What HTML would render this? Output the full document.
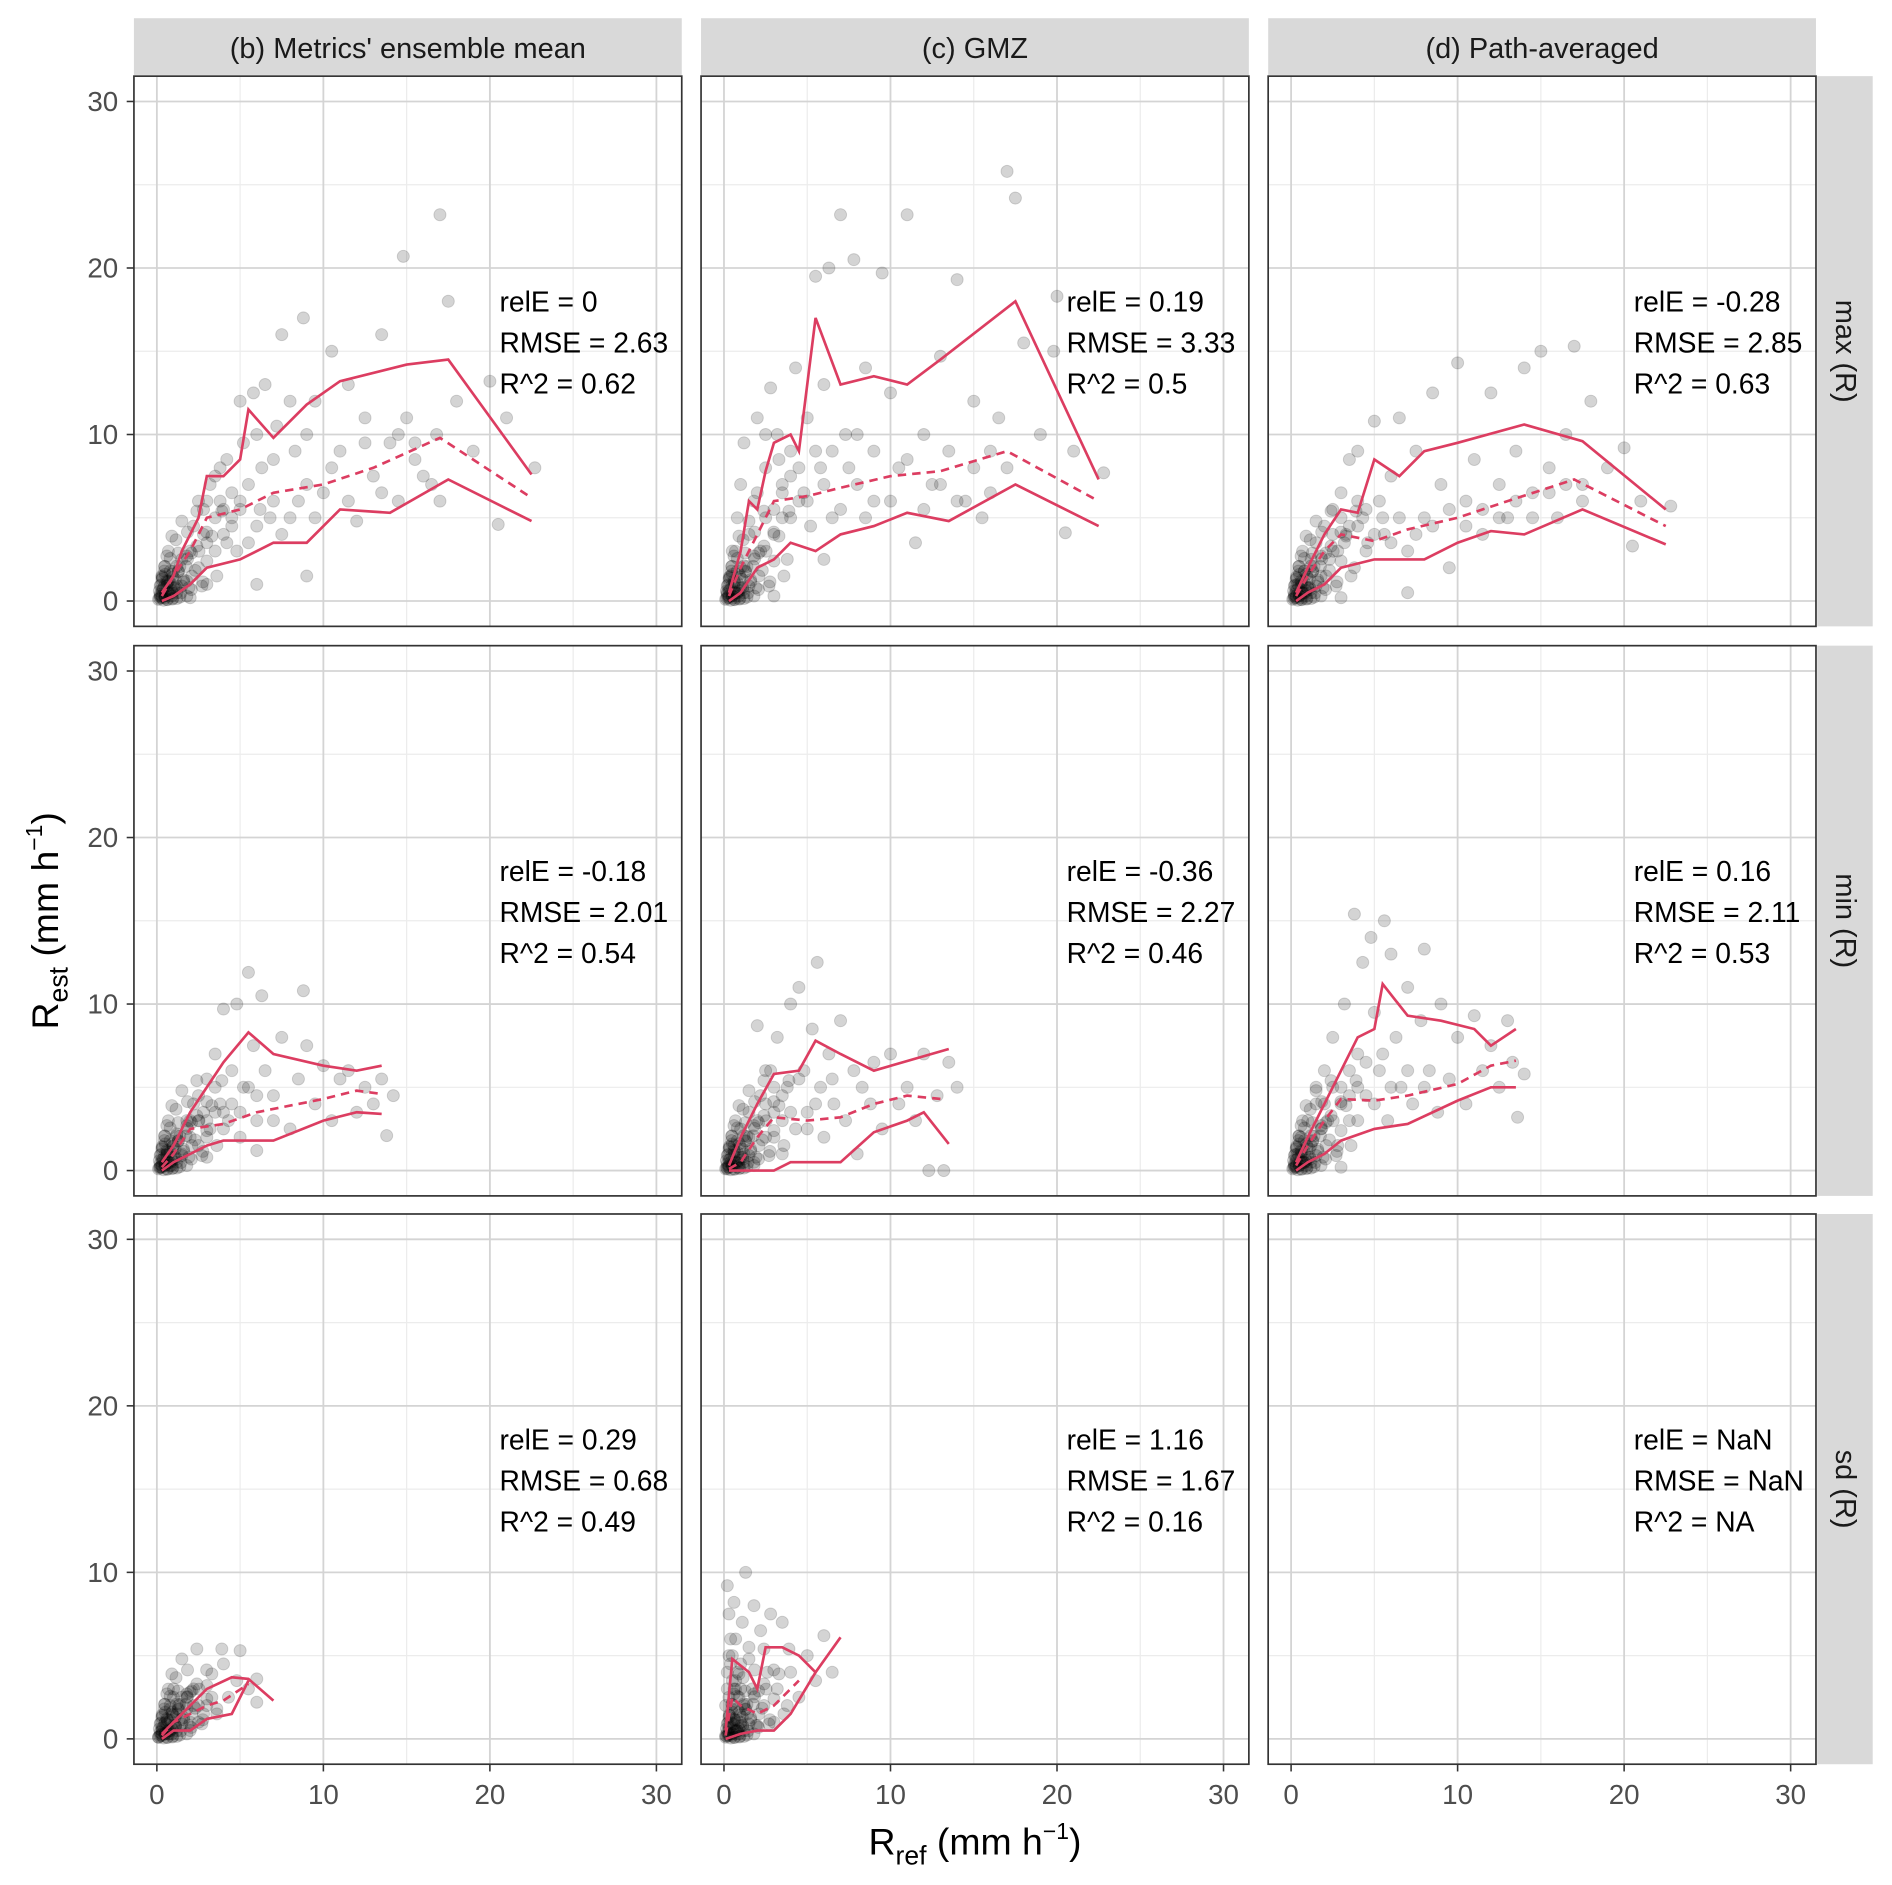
<!DOCTYPE html>
<html><head><meta charset="utf-8"><style>
html,body{margin:0;padding:0;background:#fff;}
svg{display:block;font-family:"Liberation Sans",Arial,sans-serif;}
</style></head><body>
<svg id="chart" width="1892" height="1885" viewBox="0 0 1568 1562" xmlns="http://www.w3.org/2000/svg"></svg>
<script>
// ---- data ----
const colLabels = ["(b) Metrics' ensemble mean", "(c) GMZ", "(d) Path-averaged"];
const rowLabels = ["max (R)", "min (R)", "sd (R)"];
const xTicks = [0, 10, 20, 30];
const yTicks = [0, 10, 20, 30];
const statsRelE = [["0","0.19","-0.28"],["-0.18","-0.36","0.16"],["0.29","1.16","NaN"]];
const statsRMSE = [["2.63","3.33","2.85"],["2.01","2.27","2.11"],["0.68","1.67","NaN"]];
const statsR2 = [["0.62","0.5","0.63"],["0.54","0.46","0.53"],["0.49","0.16","NA"]];
const corePts = [[0.1,0.1],[0.2,0.4],[0.3,0.2],[0.4,0.7],[0.5,0.3],[0.6,0.9],[0.7,0.5],[0.8,1.1],[0.2,0.9],[0.9,0.3],[1.0,0.8],[0.3,1.3],[0.5,1.6],[1.1,1.3],[0.15,0.6],[0.6,0.1],[0.8,1.8],[1.2,0.5],[0.4,0.05],[1.3,1.8]];
const coreScales = [1, 1.6, 2.3, 3.0];
const pts_b_max = [[0.2,0.3],[0.4,0.8],[0.5,0.2],[0.7,1.2],[0.9,0.5],[1,1.8],[1.2,0.9],[0.3,1.5],[1.5,2.5],[1.8,1.2],[2,3],[2.2,4.5],[2.5,2],[2.8,5.5],[3,3.5],[3.2,7],[3.5,5],[3.8,6],[4,4],[4.2,8.5],[4.5,6.5],[4.8,3],[5,5.5],[5.2,9.5],[5.5,7],[5.8,12.5],[6,4.5],[6.3,8],[6.5,13],[7,6],[7.2,10.5],[7.5,16],[8,5],[8.3,9],[8.8,17],[9,7],[9.5,12],[10,6.5],[10.5,15],[11,9],[11.5,13],[12,4.8],[12.5,11],[13,7.5],[13.5,16],[14,9.5],[14.5,6],[14.8,20.7],[15,11],[15.5,8.5],[16.5,7],[16.8,10],[17,23.2],[17.5,18],[18,12],[19,9],[20,13.2],[20.5,4.6],[21,11],[22.7,8],[6,1],[9,1.5],[2,0.2],[3,1],[3.5,3],[4.5,5],[2.5,6],[3.8,8],[6.8,5],[5.5,3.5],[3,6],[4,5.5],[4.5,4.5],[5,6],[3.5,7.5],[4.2,3.5],[2.8,4],[6.2,5.5],[7.5,4],[8.5,6],[9.5,5],[10.5,8],[11.5,6],[12.5,9.5],[13.5,6.5],[14.5,10],[15.5,9.5],[16,7.5],[17,6],[7,8.5],[8,12],[9,10],[6,10],[5,12]];
const pts_c_max = [[0.2,0.5],[0.4,1.5],[0.5,3],[0.6,0.2],[0.8,5],[1,2],[1,7],[1.2,9.5],[1.5,4],[1.8,6],[2,11],[2.2,3],[2.5,8],[2.8,12.8],[3,5.5],[3.2,10],[3.5,7],[3.8,2.5],[4,9],[4.3,14],[4.5,6],[5,11],[5.2,4.5],[5.5,19.5],[5.8,8],[6,13],[6.3,20],[6.5,5],[7,23.2],[7.3,10],[7.8,20.5],[8,7],[8.5,14],[9,6],[9.5,19.7],[10,12.5],[10.5,8],[11,23.2],[11.5,3.5],[12,10],[12.5,7],[13,14.7],[13.5,9],[14,19.3],[14.5,6],[15,12],[15.5,5],[16,9],[16.5,11],[17,25.8],[17.5,24.2],[18,15.5],[19,10],[19.8,15],[20,18.3],[20.5,4.1],[21,9],[22.8,7.7],[3,0.3],[6,2.5],[3.5,5],[4,7.5],[2.5,5],[4.8,6.5],[3.3,8.5],[3,4],[3.5,6.5],[4,5],[4.5,8],[5,6],[5.5,9],[6,7],[6.5,9],[7,5.5],[7.5,8],[8,10],[8.5,5],[9,9],[10,6],[11,8.5],[12,5.5],[13,7],[14,6],[15,8],[16,6.5],[17,8],[2,6.5],[2.5,10]];
const pts_d_max = [[0.2,0.3],[0.4,1],[0.6,0.2],[0.8,1.8],[1,0.8],[1.2,2.5],[1.5,3.5],[1.8,1.5],[2,4.5],[2.3,2.5],[2.5,5.5],[2.8,3],[3,6.5],[3.3,4],[3.5,8.5],[3.8,2],[4,9],[4.3,5],[4.6,3.5],[5,10.8],[5.3,6],[5.6,4],[6,7.5],[6.5,11],[7,3],[7.5,9],[8,5],[8.5,12.5],[9,7],[9.5,2],[10,14.3],[10.5,6],[11,8.5],[11.5,4],[12,12.5],[12.5,7],[13,5],[13.5,9],[14,14],[14.5,6.5],[15,15],[15.5,8],[16,5],[16.5,10],[17,15.3],[17.5,7],[18,12],[19,8],[20,9.2],[20.5,3.3],[21,6],[22.8,5.7],[7,0.5],[3,0.2],[3.2,3.5],[4,4.5],[2.5,4],[4.5,3],[3,5],[3.5,4.5],[4,6],[4.5,5.5],[5,4],[5.5,5],[6,3.5],[6.5,5],[7.5,4],[8.5,4.5],[9.5,5.5],[10.5,4.5],[11.5,5.5],[12.5,5],[13.5,6],[14.5,5],[15.5,6.5],[16.5,7],[17.5,6]];
const pts_b_min = [[0.2,0.2],[0.4,0.6],[0.6,1],[0.8,0.3],[1,1.5],[1.2,2.2],[1.5,1],[1.8,3],[2,2],[2.2,4],[2.5,1.5],[2.8,3.5],[3,5.5],[3.2,2.5],[3.5,7],[3.8,4],[4,9.7],[4.3,3],[4.5,6],[4.8,10],[5,2],[5.2,5],[5.5,11.9],[5.8,7.5],[6,3],[6.3,10.5],[6.5,6],[7,4.5],[7.5,8],[8,2.5],[8.5,5.5],[8.8,10.8],[9,7.5],[9.5,4],[10,6.3],[10.5,3],[11,5.5],[11.5,6],[12,3.5],[12.5,5],[13,4],[13.5,5.5],[13.8,2.1],[14.2,4.5],[3,0.8],[6,1.2],[2.5,3],[3.5,3.5],[4,2.5],[3,2],[2,3],[3,3],[4,3.5],[4.5,4],[5,3.5],[5.5,5],[6,4.5],[7,3],[3.5,5],[2.5,4.5]];
const pts_c_min = [[0.2,0.1],[0.4,0.5],[0.6,1.5],[0.8,0.2],[1,2.5],[1.2,1],[1.5,3.5],[1.8,0.5],[2,8.7],[2.2,4.5],[2.5,2],[2.8,6],[3,3.5],[3.2,8],[3.5,1],[3.8,5],[4,10],[4.3,2.5],[4.5,11],[4.8,6],[5,3.5],[5.3,8.5],[5.6,12.5],[5.8,5],[6,2],[6.3,7],[6.6,4],[7,9],[7.3,3],[7.8,6],[8,1],[8.3,5],[8.8,4],[9,6.5],[9.5,2.5],[10,7],[10.5,4],[11,5],[11.5,3],[12,7],[12.3,0],[12.8,4.5],[13.2,0],[13.5,6.5],[14,5],[2.5,4],[3.5,3],[1.5,2],[2,3],[3,5],[3.5,4.5],[4,3.5],[4.5,5.5],[5,2.5],[5.5,4],[6.5,5.5],[2.5,6],[3,2]];
const pts_d_min = [[0.2,0.3],[0.4,1],[0.6,2],[0.8,0.5],[1,3],[1.2,1.5],[1.5,4],[1.8,2.5],[2,6],[2.2,3],[2.5,8],[2.8,1.5],[3,5],[3.2,10],[3.5,3],[3.8,15.4],[4,7],[4.3,12.5],[4.5,4.5],[4.8,14],[5,9.5],[5.3,6],[5.6,15],[5.8,3],[6,13],[6.3,8],[6.6,5],[7,11],[7.3,4],[7.8,9],[8,13.3],[8.3,6],[8.8,3.5],[9,10],[9.5,5.5],[10,8],[10.5,4],[11,9.3],[11.5,6],[12,7.5],[12.5,5],[13,9],[13.3,6.5],[13.6,3.2],[14,5.8],[3,0.2],[2.5,5],[3.5,4.5],[1.5,5],[2,4],[3,4],[3.5,6],[4,5],[4.5,6.5],[5,4],[5.5,7],[6,5],[7,6],[8,5],[4,3]];
const pts_b_sd = [[0.1,0.1],[0.3,0.5],[0.5,1],[0.7,0.3],[0.9,1.5],[1.1,0.8],[1.3,2],[1.5,1.2],[1.8,2.5],[2,1],[2.2,3],[2.5,2],[2.8,1.5],[3,3.2],[3.3,2.5],[3.6,1.8],[4,4.5],[4.3,2.5],[4.8,3.5],[5,5.3],[5.5,3],[6,3.6],[6,2.2],[1,3],[2,0.5],[1.5,2.5],[2.5,1],[0.8,2],[1.2,1.5],[1.8,1.8],[2.2,2],[3,2],[1,2.5],[2,2.8]];
const pts_c_sd = [[0.1,0.2],[0.1,2],[0.2,9.2],[0.3,5],[0.3,7.5],[0.4,1],[0.5,3.5],[0.6,8.2],[0.7,6],[0.8,0.5],[0.9,2.5],[1,4.5],[1.1,7],[1.3,10],[1.4,1.5],[1.5,5.5],[1.7,3],[1.8,8],[2,0.8],[2.2,6.5],[2.4,2],[2.6,4],[2.8,7.5],[3,1],[3.2,3],[3.5,7],[3.8,2],[4,4],[4.5,2.5],[5,5],[5.5,3.5],[6,6.2],[6.5,4],[0.5,0.2],[1,1],[0.2,4],[0.4,6],[0.6,3],[0.2,3],[0.3,2.5],[0.5,5],[0.8,4],[1,3],[1.2,2],[0.4,4.5],[0.7,3.5]];
const up_b_max = [[0.3,0.5],[1,1.5],[1.5,3],[2.5,5],[3,7.5],[4,7.5],[5,8.5],[5.5,11.5],[7,9.8],[9,11.8],[11,13.2],[15,14.2],[17.5,14.5],[22.5,7.6]];
const md_b_max = [[0.3,0.3],[1,1.5],[2,3],[3,5],[5,5.5],[7,6.5],[10,7],[13,8],[17,9.8],[22.5,6.2]];
const lo_b_max = [[0.3,0],[1,0.3],[2,1],[3,2],[5,2.5],[7,3.5],[9,3.5],[11,5.5],[14,5.3],[17.5,7.3],[22.5,4.8]];
const up_c_max = [[0.3,0.5],[1,3],[1.5,6],[2,5.5],[2.5,7.8],[3,9.5],[4,10],[4.5,9],[5.5,17],[7,13],[9,13.5],[11,13],[13,14.5],[17.5,18],[22.5,7.3]];
const md_c_max = [[0.3,0.3],[1,2],[2,4],[3,6],[5,6.3],[7,6.8],[10,7.5],[13,7.8],[17,9],[22.5,6]];
const lo_c_max = [[0.3,0],[1,0.5],[2,2],[3,2.5],[4,3.5],[5.5,3],[7,4],[9,4.5],[11,5.3],[13.5,4.8],[17.5,7],[22.5,4.5]];
const up_d_max = [[0.3,0.5],[1,2],[2,4],[3,5.5],[4,5.3],[5,8.5],[6.5,7.5],[8,9],[10,9.5],[14,10.6],[17.5,9.6],[22.5,5.5]];
const md_d_max = [[0.3,0.3],[1,1.5],[2,3],[3,4],[5,3.6],[7,4.3],[10,5],[13,6],[17,7.3],[22.5,4.5]];
const lo_d_max = [[0.3,0],[1,0.5],[2,1],[3,2],[5,2.5],[8,2.5],[10,3.5],[12,4.2],[14,4],[17.5,5.5],[22.5,3.4]];
const up_b_min = [[0.3,0.5],[1,1.5],[2,3.5],[3,5],[4,6.5],[5.5,8.3],[7,7],[10,6.3],[12,6],[13.5,6.3]];
const md_b_min = [[0.3,0.2],[1,1],[2,2.5],[4,2.8],[6,3.5],[10,4.3],[12,4.8],[13.5,4.6]];
const lo_b_min = [[0.3,0],[1,0.5],[2,1],[3,1.5],[4,1.8],[7,1.8],[10,3],[12,3.5],[13.5,3.4]];
const up_c_min = [[0.3,0.3],[1,2],[2,4],[3,5.8],[4.5,6],[5.5,7.8],[7,7],[9,6],[13.5,7.3]];
const md_c_min = [[0.3,0.1],[1,0.5],[2,2],[3,3.2],[5,3],[7,3.2],[9,4],[11,4.5],[13,4.3]];
const lo_c_min = [[0.3,0],[1,0],[3,0],[4,0.5],[7,0.5],[9,2.3],[11,3],[12,3.5],[13.5,1.6]];
const up_d_min = [[0.3,0.5],[1,2],[2,4],[3,6],[4,8],[5,8.5],[5.5,11.2],[7,9.3],[9,9],[11,8.5],[12,7.5],[13.5,8.5]];
const md_d_min = [[0.3,0.3],[1,1.5],[2,3],[3,4.3],[5,4.2],[7,4.5],[10,5.2],[12,6.3],[13.5,6.6]];
const lo_d_min = [[0.3,0],[1,0.5],[2,1],[3,1.8],[5,2.5],[7,2.8],[10,4.2],[12,5],[13.5,5]];
const up_b_sd = [[0.3,0.3],[1,1],[2,2],[3,3],[4.5,3.7],[5.5,3.6],[7,2.3]];
const md_b_sd = [[0.3,0.2],[1,1],[2,1.5],[3,2],[4,2.3],[5.5,3.3]];
const lo_b_sd = [[0.3,0],[1,0.5],[2,0.5],[3,1.2],[4.5,1.5],[5.5,3.5]];
const up_c_sd = [[0.1,0.5],[0.5,4.8],[1.5,4],[2,3],[2.5,5.5],[3.5,5.5],[4.5,5],[5.5,4],[7,6.1]];
const md_c_sd = [[0.1,0.2],[0.5,2.5],[1,2],[2,1.5],[3,2],[4.5,3.5]];
const lo_c_sd = [[0.1,0],[1,0.3],[2,0.5],[3,0.5],[4,1.5],[5.5,4]];

const panelPts = [[pts_b_max,pts_c_max,pts_d_max],[pts_b_min,pts_c_min,pts_d_min],[pts_b_sd,pts_c_sd,[]]];
const panelUp = [[up_b_max,up_c_max,up_d_max],[up_b_min,up_c_min,up_d_min],[up_b_sd,up_c_sd,[]]];
const panelMd = [[md_b_max,md_c_max,md_d_max],[md_b_min,md_c_min,md_d_min],[md_b_sd,md_c_sd,[]]];
const panelLo = [[lo_b_max,lo_c_max,lo_d_max],[lo_b_min,lo_c_min,lo_d_min],[lo_b_sd,lo_c_sd,[]]];

// ---- layout ----
const NS = "http://www.w3.org/2000/svg";
const svg = document.getElementById('chart');
const colX = [111, 581, 1051], panelW = 454;
const rowY = [63, 535, 1006], panelH = 456;
const x0off = 19, unit = 13.8, yBase = 435;
function mk(tag, attrs, parent){const e=document.createElementNS(NS,tag);for(const k in attrs)e.setAttribute(k,attrs[k]);(parent||svg).appendChild(e);return e;}
function sx(c,v){return colX[c]+x0off+v*unit;}
function sy(r,v){return rowY[r]+yBase-v*unit;}

for(let c=0;c<3;c++){
  const s=mk('rect',{x:colX[c],y:15,width:panelW,height:47,fill:'#d9d9d9'});
  
  
  const t=mk('text',{x:colX[c]+panelW/2,y:48,'text-anchor':'middle','font-size':24,fill:'#1a1a1a'});
  t.textContent=colLabels[c];
  
  
}
for(let r=0;r<3;r++){
  const s=mk('rect',{x:1506,y:rowY[r],width:46,height:panelH,fill:'#d9d9d9'});
  
  
  const cx=1529, cy=rowY[r]+panelH/2;
  const t=mk('text',{x:cx,y:cy,'text-anchor':'middle','dominant-baseline':'central','font-size':24,fill:'#1a1a1a',transform:`rotate(90 ${cx} ${cy})`});
  t.textContent=rowLabels[r];
  
  
}

for(let r=0;r<3;r++){for(let c=0;c<3;c++){
  const g=mk('g',{});
  
  
  const cp='cp'+r+c;
  const cl=mk('clipPath',{id:cp},g);mk('rect',{x:colX[c],y:rowY[r],width:panelW,height:panelH},cl);
  mk('rect',{x:colX[c],y:rowY[r],width:panelW,height:panelH,fill:'#fff'},g);
  for(const v of [5,15,25]){
    mk('line',{x1:sx(c,v),x2:sx(c,v),y1:rowY[r],y2:rowY[r]+panelH,stroke:'#ececec','stroke-width':1},g);
    mk('line',{y1:sy(r,v),y2:sy(r,v),x1:colX[c],x2:colX[c]+panelW,stroke:'#ececec','stroke-width':1},g);
  }
  for(const v of xTicks) mk('line',{x1:sx(c,v),x2:sx(c,v),y1:rowY[r],y2:rowY[r]+panelH,stroke:'#d4d4d4','stroke-width':1.5},g);
  for(const v of yTicks) mk('line',{y1:sy(r,v),y2:sy(r,v),x1:colX[c],x2:colX[c]+panelW,stroke:'#d4d4d4','stroke-width':1.5},g);
  const pg=mk('g',{'clip-path':`url(#${cp})`},g);
  const pts=panelPts[r][c];
  let all=[];
  if(pts.length){ for(const s of coreScales) all=all.concat(corePts.map(p=>[p[0]*s,p[1]*s])); all=all.concat(pts); }
  for(const p of all){
    const d=mk('circle',{cx:sx(c,p[0]),cy:sy(r,p[1]),r:5,fill:'rgba(0,0,0,0.17)',stroke:'rgba(0,0,0,0.15)','stroke-width':0.8},pg);
    
    
  }
  const lines=[[panelUp[r][c],'upper-quantile-line',null],[panelMd[r][c],'median-line','7,5'],[panelLo[r][c],'lower-quantile-line',null]];
  for(const [arr,nm,dash] of lines){
    if(!arr.length) continue;
    const a={points:arr.map(p=>sx(c,p[0])+','+sy(r,p[1])).join(' '),fill:'none',stroke:'#dc3d61','stroke-width':2.2};
    if(dash)a['stroke-dasharray']=dash;
    const l=mk('polyline',a,pg);
    
    
  }
  mk('rect',{x:colX[c],y:rowY[r],width:panelW,height:panelH,fill:'none',stroke:'#333','stroke-width':1.4},g);
  const labs=['relE = '+statsRelE[r][c],'RMSE = '+statsRMSE[r][c],'R^2 = '+statsR2[r][c]];
  labs.forEach((s,i)=>{
    const t=mk('text',{x:colX[c]+303,y:rowY[r]+195+i*34,'font-size':23.4,fill:'#000'},g);
    t.textContent=s;
    
    
  });
}}
// axes ticks
for(let r=0;r<3;r++){for(const v of yTicks){
  mk('line',{x1:105,x2:111,y1:sy(r,v),y2:sy(r,v),stroke:'#333','stroke-width':1.3});
  const t=mk('text',{x:98,y:sy(r,v)+8,'text-anchor':'end','font-size':23,fill:'#4d4d4d'});
  t.textContent=v;
  
  
}}
for(let c=0;c<3;c++){for(const v of xTicks){
  mk('line',{x1:sx(c,v),x2:sx(c,v),y1:1462,y2:1468,stroke:'#333','stroke-width':1.3});
  const t=mk('text',{x:sx(c,v),y:1495,'text-anchor':'middle','font-size':23,fill:'#4d4d4d'});
  t.textContent=v;
  
  
}}
(function(){
const xt=document.createElementNS(NS,'text');
xt.setAttribute('x',808);xt.setAttribute('y',1537);xt.setAttribute('text-anchor','middle');xt.setAttribute('font-size',31);xt.setAttribute('fill','#000');
xt.innerHTML='R<tspan font-size="22" dy="8">ref</tspan><tspan dy="-8"> (mm h</tspan><tspan font-size="19" dy="-13">−1</tspan><tspan dy="13">)</tspan>';


svg.appendChild(xt);
const yt=document.createElementNS(NS,'text');
yt.setAttribute('x',763);yt.setAttribute('y',48);yt.setAttribute('text-anchor','middle');yt.setAttribute('font-size',31);yt.setAttribute('fill','#000');
yt.setAttribute('transform','translate(0,1526) rotate(-90)');
yt.innerHTML='R<tspan font-size="22" dy="8">est</tspan><tspan dy="-8"> (mm h</tspan><tspan font-size="19" dy="-13">−1</tspan><tspan dy="13">)</tspan>';


svg.appendChild(yt);
})();
</script>
</body></html>
